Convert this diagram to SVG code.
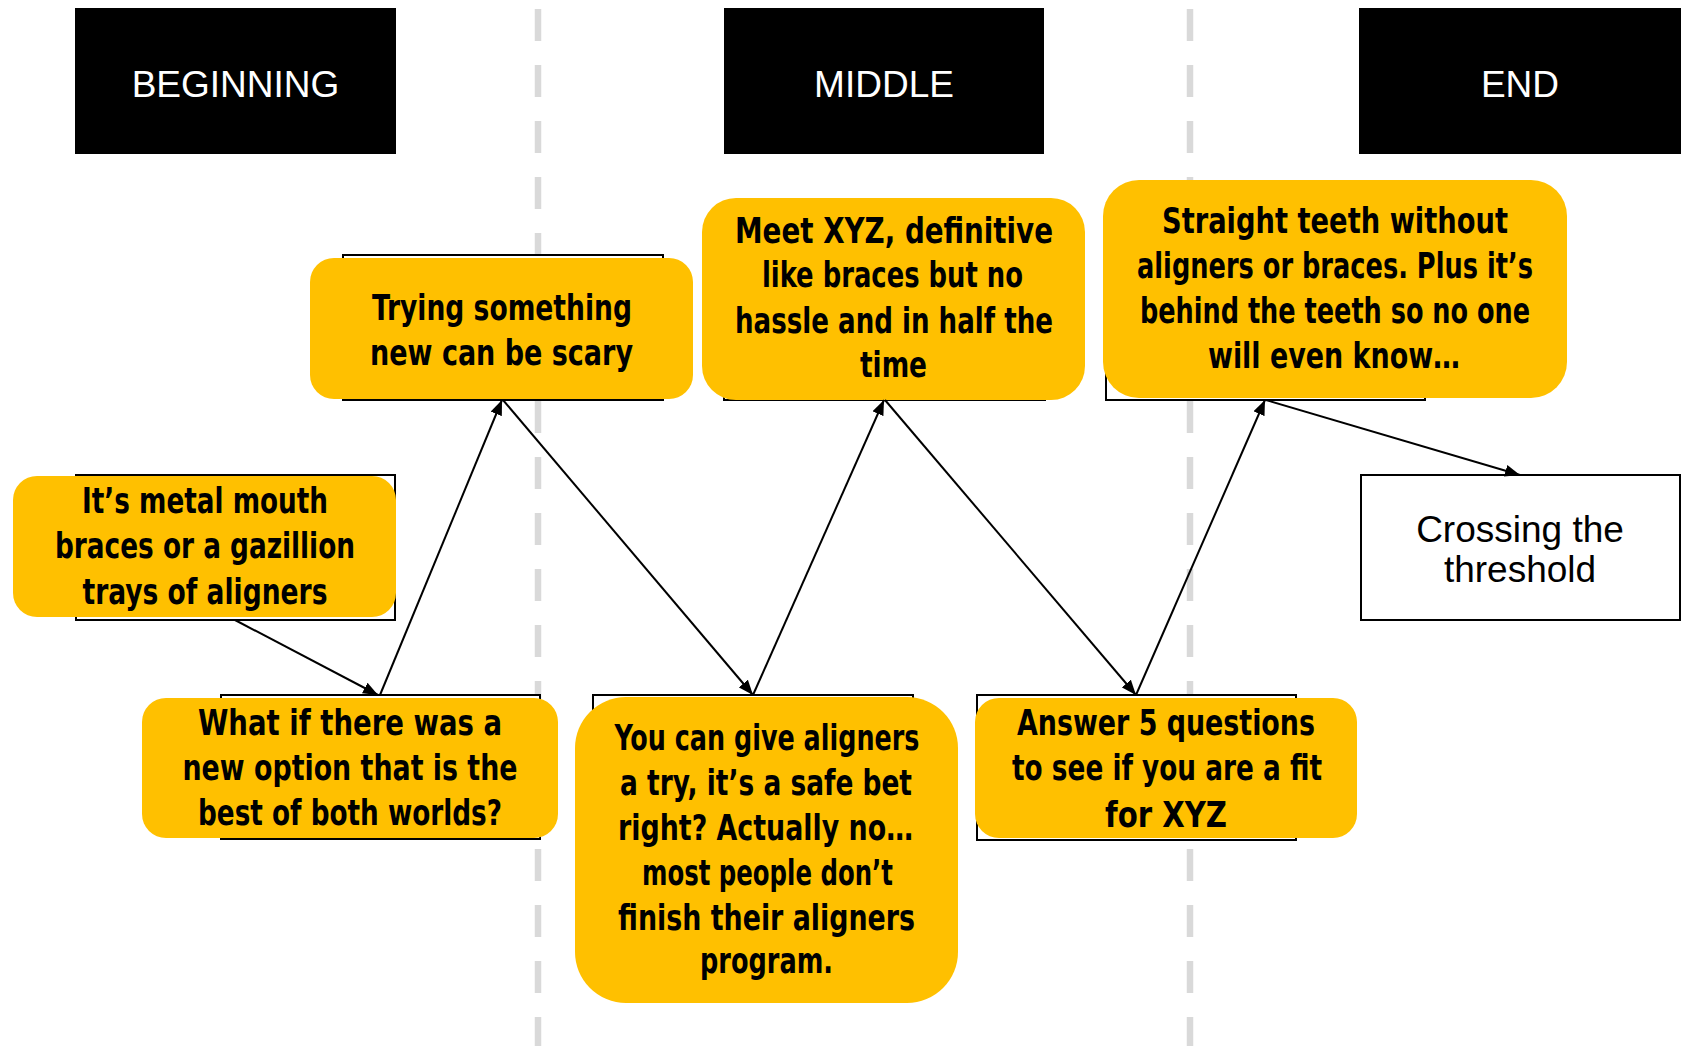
<svg xmlns="http://www.w3.org/2000/svg" width="1681" height="1046" viewBox="0 0 1681 1046">
  <style>
    .stage { fill: #000000; }
    .stage-label { font-family: "Liberation Sans", Arial, sans-serif; font-size: 37px; fill: #ffffff; text-anchor: middle; }
    .frame { fill: #ffffff; stroke: #000000; stroke-width: 2; }
    .card { fill: #ffc000; }
    .card-text { font-family: "Liberation Sans Narrow", "DejaVu Sans Condensed", "Liberation Sans", sans-serif; font-weight: bold; font-size: 36px; fill: #000000; text-anchor: middle; }
    .plain-text { font-family: "Liberation Sans", Arial, sans-serif; font-size: 37px; fill: #000000; text-anchor: middle; }
    .divider { stroke: #d9d9d9; stroke-width: 6.5; stroke-dasharray: 32 24; fill: none; }
    .link { stroke: #000000; stroke-width: 2; fill: none; marker-end: url(#arrow); }
  </style>
  <defs>
    <marker id="arrow" viewBox="0 0 10 8" refX="10" refY="4" markerWidth="7.5" markerHeight="6" orient="auto" markerUnits="strokeWidth">
      <path d="M0,0 L10,4 L0,8 z" fill="#000000"/>
    </marker>
  </defs>

  <rect width="1681" height="1046" fill="#ffffff"/>

  <!-- act dividers -->
  <g id="dividers">
    <line class="divider" x1="538" y1="9" x2="538" y2="1046"/>
    <line class="divider" x1="1190" y1="9" x2="1190" y2="1046"/>
  </g>

  <!-- act headers -->
  <g id="header-beginning">
    <rect class="stage" x="75" y="8" width="321" height="146"/>
    <text class="stage-label" x="235.5" y="97">BEGINNING</text>
  </g>
  <g id="header-middle">
    <rect class="stage" x="724" y="8" width="320" height="146"/>
    <text class="stage-label" x="884" y="97">MIDDLE</text>
  </g>
  <g id="header-end">
    <rect class="stage" x="1359" y="8" width="322" height="146"/>
    <text class="stage-label" x="1520" y="97">END</text>
  </g>

  <!-- story beats -->
  <g id="beat-metal-mouth">
    <rect class="frame" x="76" y="475" width="319" height="145"/>
    <rect class="card" x="13" y="476" width="383" height="141" rx="24" ry="24"/>
    <text class="card-text" x="205" y="513" textLength="246" lengthAdjust="spacingAndGlyphs">It’s metal mouth</text>
    <text class="card-text" x="205" y="558" textLength="300" lengthAdjust="spacingAndGlyphs">braces or a gazillion</text>
    <text class="card-text" x="205" y="604" textLength="245" lengthAdjust="spacingAndGlyphs">trays of aligners</text>
  </g>

  <g id="beat-what-if">
    <rect class="frame" x="221" y="695" width="319" height="144"/>
    <rect class="card" x="142" y="698" width="416" height="140" rx="24" ry="24"/>
    <text class="card-text" x="350" y="735" textLength="304" lengthAdjust="spacingAndGlyphs">What if there was a</text>
    <text class="card-text" x="350" y="780" textLength="335" lengthAdjust="spacingAndGlyphs">new option that is the</text>
    <text class="card-text" x="350" y="825" textLength="304" lengthAdjust="spacingAndGlyphs">best of both worlds?</text>
  </g>

  <g id="beat-trying">
    <rect class="frame" x="343" y="255" width="320" height="145"/>
    <rect class="card" x="310" y="258" width="383" height="141" rx="24" ry="24"/>
    <text class="card-text" x="502" y="320" textLength="260" lengthAdjust="spacingAndGlyphs">Trying something</text>
    <text class="card-text" x="501.5" y="365" textLength="263" lengthAdjust="spacingAndGlyphs">new can be scary</text>
  </g>

  <g id="beat-safe-bet">
    <rect class="frame" x="593" y="695" width="320" height="145"/>
    <rect class="card" x="575" y="697" width="383" height="306" rx="51" ry="51"/>
    <text class="card-text" x="767" y="750" textLength="305" lengthAdjust="spacingAndGlyphs">You can give aligners</text>
    <text class="card-text" x="766" y="795" textLength="292" lengthAdjust="spacingAndGlyphs">a try, it’s a safe bet</text>
    <text class="card-text" x="765.5" y="840" textLength="295" lengthAdjust="spacingAndGlyphs">right? Actually no…</text>
    <text class="card-text" x="767.5" y="885" textLength="251" lengthAdjust="spacingAndGlyphs">most people don’t</text>
    <text class="card-text" x="766.5" y="930" textLength="297" lengthAdjust="spacingAndGlyphs">finish their aligners</text>
    <text class="card-text" x="766.5" y="973" textLength="133" lengthAdjust="spacingAndGlyphs">program.</text>
  </g>

  <g id="beat-meet-xyz">
    <rect class="frame" x="724" y="255" width="321" height="145"/>
    <rect class="card" x="702" y="198" width="383" height="202" rx="34" ry="34"/>
    <text class="card-text" x="894" y="243" textLength="318" lengthAdjust="spacingAndGlyphs">Meet XYZ, definitive</text>
    <text class="card-text" x="892.5" y="287" textLength="261" lengthAdjust="spacingAndGlyphs">like braces but no</text>
    <text class="card-text" x="894" y="333" textLength="318" lengthAdjust="spacingAndGlyphs">hassle and in half the</text>
    <text class="card-text" x="893.5" y="377" textLength="67" lengthAdjust="spacingAndGlyphs">time</text>
  </g>

  <g id="beat-answer">
    <rect class="frame" x="977" y="695" width="319" height="145"/>
    <rect class="card" x="975" y="698" width="382" height="140" rx="24" ry="24"/>
    <text class="card-text" x="1166" y="735" textLength="298" lengthAdjust="spacingAndGlyphs">Answer 5 questions</text>
    <text class="card-text" x="1167" y="780" textLength="310" lengthAdjust="spacingAndGlyphs">to see if you are a fit</text>
    <text class="card-text" x="1166" y="827" textLength="122" lengthAdjust="spacingAndGlyphs">for XYZ</text>
  </g>

  <g id="beat-straight-teeth">
    <rect class="frame" x="1106" y="255" width="319" height="145"/>
    <rect class="card" x="1103" y="180" width="464" height="218" rx="36" ry="36"/>
    <text class="card-text" x="1335" y="233" textLength="346" lengthAdjust="spacingAndGlyphs">Straight teeth without</text>
    <text class="card-text" x="1335" y="278" textLength="396" lengthAdjust="spacingAndGlyphs">aligners or braces. Plus it’s</text>
    <text class="card-text" x="1335" y="323" textLength="390" lengthAdjust="spacingAndGlyphs">behind the teeth so no one</text>
    <text class="card-text" x="1334" y="368" textLength="252" lengthAdjust="spacingAndGlyphs">will even know…</text>
  </g>

  <g id="beat-threshold">
    <rect class="frame" x="1361" y="475" width="319" height="145"/>
    <text class="plain-text" x="1520" y="542">Crossing the</text>
    <text class="plain-text" x="1520" y="582">threshold</text>
  </g>

  <!-- story arc connectors -->
  <g id="connectors">
    <path class="link" d="M235,620 L378,695"/>
    <path class="link" d="M380,695 L502,400"/>
    <path class="link" d="M503,400 L753,695"/>
    <path class="link" d="M753,695 L884,400"/>
    <path class="link" d="M885,400 L1136,695"/>
    <path class="link" d="M1136,695 L1265,400"/>
    <path class="link" d="M1266,400 L1520,475"/>
  </g>
</svg>
